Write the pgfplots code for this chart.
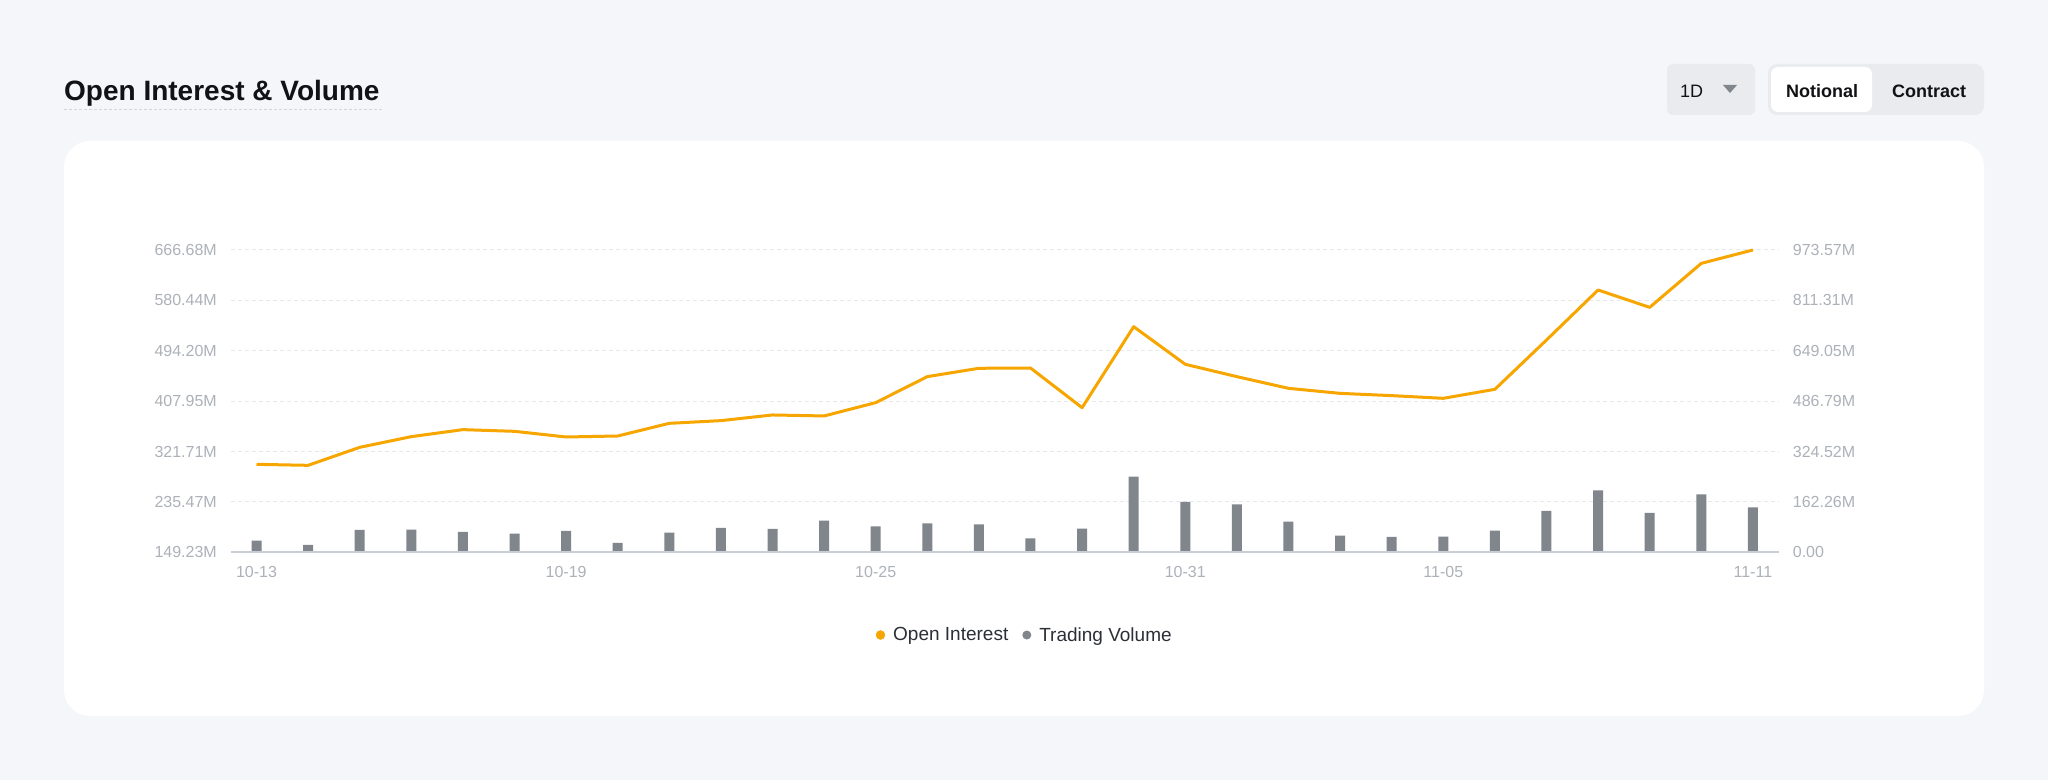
\documentclass[border=0pt]{standalone}
\usepackage{fontspec}
\setmainfont{Liberation Sans}
\usepackage{pgfplots}
\pgfplotsset{compat=1.18}
\definecolor{bgc}{HTML}{F5F6FA}
\definecolor{btnc}{HTML}{E9EBEF}
\definecolor{titlec}{HTML}{121214}
\definecolor{tickc}{HTML}{ADB1B8}
\definecolor{gridc}{HTML}{E6E8EC}
\definecolor{basec}{HTML}{C9CDD4}
\definecolor{oic}{HTML}{F7A600}
\definecolor{barc}{HTML}{81858C}
\definecolor{legc}{HTML}{2B2F36}
\definecolor{ulc}{HTML}{D3D6DB}
\begin{document}
\begin{tikzpicture}[x=1pt,y=1pt]
\fill[bgc] (0,0) rectangle (2048,780);
\fill[white, rounded corners=26pt] (64,64) rectangle (1984,639);
\node[anchor=base west, inner sep=0pt, font=\fontsize{28}{32}\selectfont\bfseries, text=titlec] at (64,679) {Open Interest \& Volume};
\draw[ulc, dash pattern=on 3pt off 2pt, line width=1pt] (64,670) -- (384,670);
% 1D button
\fill[btnc, rounded corners=6pt] (1667,665) rectangle (1755,716);
\node[anchor=west, inner sep=0pt, font=\fontsize{18}{20}\selectfont, text=titlec] at (1680,689) {1D};
\fill[barc] (1723,695) -- (1737,695) -- (1730,687) -- cycle;
% toggle
\fill[btnc, rounded corners=9pt] (1768,665) rectangle (1984,716);
\fill[white, rounded corners=7pt] (1771,668) rectangle (1872,713);
\node[inner sep=0pt, font=\fontsize{18}{20}\selectfont\bfseries, text=titlec] at (1822,689) {Notional};
\node[inner sep=0pt, font=\fontsize{18}{20}\selectfont\bfseries, text=titlec] at (1929,689) {Contract};

\begin{axis}[at={(230.7pt,227.7pt)}, anchor=south west, scale only axis,
  width=1548pt, height=302.3pt, xmin=-0.5, xmax=29.5, ymin=149.23, ymax=666.68,
  axis x line*=bottom, axis y line*=left,
  x axis line style={draw=none}, y axis line style={draw=none},
  major tick length=0pt,
  xtick={0,6,12,18,23,29}, xticklabels={10-13,10-19,10-25,10-31,11-05,11-11},
  ytick={149.23,235.47,321.71,407.95,494.20,580.44,666.68},
  yticklabels={149.23M,235.47M,321.71M,407.95M,494.20M,580.44M,666.68M},
  ymajorgrids, grid style={gridc, line width=1pt, dash pattern=on 4pt off 3pt},
  tick label style={font=\fontsize{16}{18}\selectfont, text=tickc},
  yticklabel style={inner sep=0pt, xshift=-13.7pt},
  xticklabel style={inner sep=0pt, yshift=-14pt},
  clip=false]
\addplot[oic, line width=3pt, line join=round] coordinates {
(0,299.8) (1,298.1) (2,328.9) (3,347.2) (4,359.2) (5,356.3) (6,346.6) (7,348.3)
(8,370.0) (9,374.6) (10,384.3) (11,382.6) (12,405.4) (13,449.9) (14,464.2) (15,464.7)
(16,396.8) (17,535.4) (18,471.0) (19,449.9) (20,429.9) (21,421.3) (22,417.4) (23,412.8)
(24,428.2) (25,512.6) (26,598.2) (27,568.5) (28,643.8) (29,666.7)};
\end{axis}

\begin{axis}[at={(230.7pt,227.7pt)}, anchor=south west, scale only axis,
  width=1548pt, height=302.3pt, xmin=-0.5, xmax=29.5, ymin=0, ymax=973.57,
  axis x line*=bottom, axis y line*=right,
  x axis line style={basec, line width=2pt}, y axis line style={draw=none},
  major tick length=0pt, xtick=\empty,
  ytick={0,162.26,324.52,486.79,649.05,811.31,973.57},
  yticklabels={0.00,162.26M,324.52M,486.79M,649.05M,811.31M,973.57M},
  tick label style={font=\fontsize{16}{18}\selectfont, text=tickc},
  yticklabel style={inner sep=0pt, xshift=14pt},
  axis on top, clip=false,
  legend columns=-1,
  legend style={at={(0.5123,-0.2736)}, anchor=center, draw=none, fill=none,
    inner sep=0pt, font=\fontsize{19}{22}\selectfont, text=legc,
    nodes={inner sep=0pt},
    /tikz/every odd column/.append style={column sep=8pt},
    /tikz/every even column/.append style={column sep=14pt}}]
\addlegendimage{legend image code/.code={\fill[oic] (0pt,0pt) circle (4.5pt);}}
\addlegendentry{Open Interest}
\addplot[ybar, bar width=10pt, bar shift=0pt, fill=barc, draw=none,
  legend image code/.code={\fill[barc] (0pt,0pt) circle (4.5pt);}] coordinates {
(0,37.6) (1,23.6) (2,71.9) (3,73.0) (4,65.5) (5,60.1) (6,68.7) (7,30.1)
(8,63.3) (9,78.4) (10,75.1) (11,102.0) (12,83.7) (13,93.4) (14,90.2) (15,45.1)
(16,76.2) (17,243.7) (18,162.1) (19,154.6) (20,98.8) (21,53.7) (22,49.4) (23,50.4)
(24,69.8) (25,133.1) (26,199.6) (27,126.7) (28,186.8) (29,144.9)};
\addlegendentry{Trading Volume}
\end{axis}
\end{tikzpicture}
\end{document}
